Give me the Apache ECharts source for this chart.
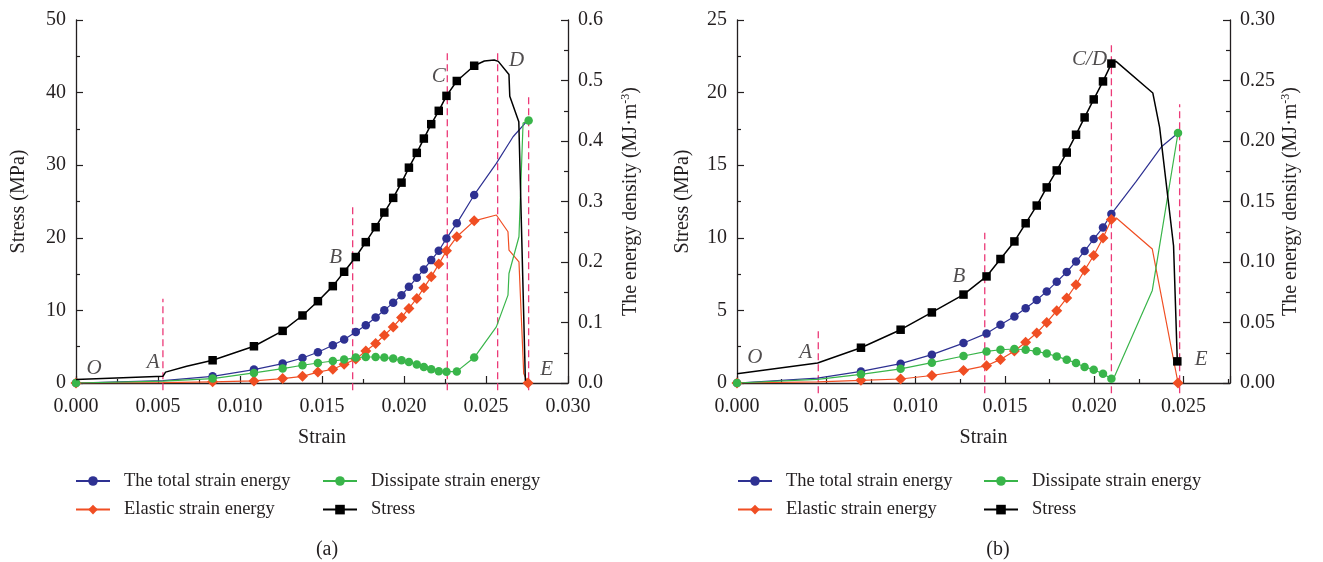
<!DOCTYPE html>
<html>
<head>
<meta charset="utf-8">
<script src="https://cdn.jsdelivr.net/npm/echarts@6/dist/echarts.min.js"></script>
<style>html,body{margin:0;padding:0;background:#fff}#c{width:1323px;height:562px}</style>
</head>
<body>
<div id="c"></div>
<script>
// ---------- DATA: [strain, value, marker(1)/no marker(0)] ----------
// Panel (a)
const stressA = [[0,0.47,0],[0.0053,0.92,0],[0.00546,1.5,0],[0.00675,2.3,0],
  [0.00833,3.13,1],[0.01085,5.06,1],[0.0126,7.18,1],[0.01381,9.3,1],[0.01475,11.27,1],[0.01566,13.34,1],
  [0.01635,15.32,1],[0.01706,17.35,1],[0.01767,19.4,1],[0.01827,21.46,1],[0.0188,23.48,1],[0.01934,25.5,1],
  [0.01985,27.6,1],[0.0203,29.66,1],[0.02078,31.7,1],[0.02121,33.67,1],[0.02166,35.65,1],[0.02212,37.49,1],
  [0.02259,39.55,1],[0.02322,41.6,1],[0.02428,43.7,1],
  [0.0249,44.35,0],[0.0255,44.5,0],[0.02575,44.3,0],[0.0264,42.5,0],[0.02645,39.5,0],[0.027,36.0,0],[0.0274,0.3,0]];
const totalA = [[0,0,1],[0.0053,0.004,0],[0.00833,0.011,1],[0.01085,0.0222,1],[0.0126,0.0321,1],[0.01381,0.0414,1],
  [0.01475,0.0508,1],[0.01566,0.0624,1],[0.01635,0.0718,1],[0.01706,0.0845,1],[0.01767,0.0955,1],[0.01827,0.1083,1],
  [0.0188,0.1204,1],[0.01934,0.1325,1],[0.01985,0.1452,1],[0.0203,0.159,1],[0.02078,0.1738,1],[0.02121,0.1877,1],
  [0.02166,0.2031,1],[0.02212,0.2185,1],[0.02259,0.239,1],[0.02322,0.2639,1],[0.02428,0.3108,1],
  [0.02563,0.363,0],[0.02665,0.407,0],[0.0275,0.433,0]];
const elasticA = [[0,0,1],[0.0053,0.0005,0],[0.00833,0.002,1],[0.01085,0.0035,1],[0.0126,0.0073,1],[0.01381,0.011,1],
  [0.01475,0.018,1],[0.01566,0.0227,1],[0.01635,0.031,1],[0.01706,0.0395,1],[0.01767,0.053,1],[0.01827,0.0652,1],
  [0.0188,0.079,1],[0.01934,0.0927,1],[0.01985,0.1083,1],[0.0203,0.1232,1],[0.02078,0.1397,1],[0.02121,0.1573,1],
  [0.02166,0.1755,1],[0.02212,0.1965,1],[0.02259,0.2185,1],[0.02322,0.2417,1],[0.02428,0.268,1],
  [0.02563,0.2777,0],[0.02634,0.25,0],[0.0264,0.2197,0],[0.02701,0.2003,0],[0.0273,0.0155,0],[0.02756,0,1]];
const dissipateA = [[0,0,1],[0.0053,0.003,0],[0.00833,0.0073,1],[0.01085,0.0166,1],[0.0126,0.0238,1],[0.01381,0.0293,1],
  [0.01475,0.0331,1],[0.01566,0.0364,1],[0.01635,0.0387,1],[0.01706,0.042,1],[0.01767,0.043,1],[0.01827,0.043,1],
  [0.0188,0.042,1],[0.01934,0.0404,1],[0.01985,0.0376,1],[0.0203,0.0348,1],[0.02078,0.0304,1],[0.02121,0.0265,1],
  [0.02166,0.0227,1],[0.02212,0.0194,1],[0.02259,0.0185,1],[0.02322,0.0192,1],[0.02428,0.042,1],
  [0.02563,0.0927,0],[0.02634,0.1452,0],[0.0264,0.181,0],[0.02701,0.2417,0],[0.02726,0.4295,0],[0.0276,0.434,1]];
// guides: [strain, bottom stress, top stress]
const guidesA = [[0.0053,-1,11.6],[0.01687,-1,24.2],[0.02264,-1,45.9],[0.02571,-1,45.9],[0.0276,-1,39.5]];
const labelsA = [['O',0.0011,2.0],['A',0.0047,2.85],['B',0.01584,17.3],['C',0.02212,42.2],['D',0.02687,44.4],['E',0.0287,1.9]];

// Panel (b)
const stressB = [[0,0.64,0],[0.00451,1.38,0],[0.00694,2.43,1],[0.00916,3.67,1],[0.01091,4.86,1],[0.01268,6.09,1],
  [0.01397,7.34,1],[0.01475,8.54,1],[0.01553,9.75,1],[0.01616,11.0,1],[0.01678,12.22,1],[0.01734,13.47,1],
  [0.0179,14.64,1],[0.01846,15.87,1],[0.01898,17.1,1],[0.01946,18.29,1],[0.01997,19.53,1],[0.02049,20.77,1],
  [0.02096,22.0,1],[0.02122,22.15,0],[0.02328,19.97,0],[0.02366,17.6,0],[0.02444,9.45,0],[0.02465,1.49,1]];
const totalB = [[0,0,1],[0.00451,0.004,0],[0.00694,0.0096,1],[0.00916,0.016,1],[0.01091,0.0234,1],[0.01268,0.033,1],
  [0.01397,0.041,1],[0.01475,0.0482,1],[0.01553,0.055,1],[0.01616,0.0618,1],[0.01678,0.0686,1],[0.01734,0.0757,1],
  [0.0179,0.0836,1],[0.01846,0.0917,1],[0.01898,0.1004,1],[0.01946,0.109,1],[0.01997,0.119,1],[0.02049,0.1286,1],
  [0.02096,0.1397,1],[0.02235,0.1666,0],[0.02378,0.1955,0],[0.02469,0.2066,0]];
const elasticB = [[0,0,1],[0.00451,0.001,0],[0.00694,0.0022,1],[0.00916,0.0033,1],[0.01091,0.0062,1],[0.01268,0.0104,1],
  [0.01397,0.0143,1],[0.01475,0.0195,1],[0.01553,0.0265,1],[0.01616,0.0337,1],[0.01678,0.0413,1],[0.01734,0.0501,1],
  [0.0179,0.0597,1],[0.01846,0.0702,1],[0.01898,0.0812,1],[0.01946,0.0932,1],[0.01997,0.1054,1],[0.02049,0.1198,1],
  [0.02096,0.1352,1],[0.02124,0.1364,0],[0.02325,0.1107,0],[0.02469,0,1]];
const dissipateB = [[0,0,1],[0.00451,0.003,0],[0.00694,0.0072,1],[0.00916,0.0117,1],[0.01091,0.0168,1],[0.01268,0.0223,1],
  [0.01397,0.0261,1],[0.01475,0.0275,1],[0.01553,0.0281,1],[0.01616,0.0275,1],[0.01678,0.0262,1],[0.01734,0.0244,1],
  [0.0179,0.022,1],[0.01846,0.0193,1],[0.01898,0.0165,1],[0.01946,0.0132,1],[0.01997,0.011,1],[0.02049,0.0077,1],
  [0.02096,0.0035,1],[0.02114,0.0055,0],[0.02325,0.0765,0],[0.02469,0.2066,1]];
const guidesB = [[0.00455,-0.7,3.8],[0.01387,-0.7,10.35],[0.02096,-0.7,23.5],[0.02478,-0.7,19.2]];
const labelsB = [['O',0.001,1.76],['A',0.00384,2.09],['B',0.01243,7.34],['C/D',0.01974,22.3],['E',0.02599,1.6]];

const xTicksA = {min:0, max:0.03, interval:0.005};
const xTicksB = {min:0, max:0.0276, interval:0.005};
const stressTicksA = {min:0, max:50, interval:10};
const energyTicksA = {min:0, max:0.6, interval:0.1};
const stressTicksB = {min:0, max:25, interval:5};
const energyTicksB = {min:0, max:0.3, interval:0.05};

const NAMES = {total:'The total strain energy', elastic:'Elastic strain energy', dissipate:'Dissipate strain energy', stress:'Stress'};

// ---------- STYLE ----------
const FONT = 'Liberation Serif';
const TXT = '#231f20';
const COL = {total:'#2e3192', elastic:'#f04e23', dissipate:'#39b54a', stress:'#000000', guide:'#ec3a78'};
const SYM = {total:['circle',8.5], elastic:['diamond',11], dissipate:['circle',8.5], stress:['rect',8.5]};

function pts(arr, sym){ return arr.map(p => ({value:[p[0], p[1]], symbol: p[2] ? sym : 'none'})); }

function lineSeries(key, arr, gi, yi){
  const [sym, size] = SYM[key];
  return {
    type:'line', name:NAMES[key], xAxisIndex:gi, yAxisIndex:yi,
    data: pts(arr, sym), symbol: sym, symbolSize: size, showSymbol:true,
    lineStyle:{color:COL[key], width: key==='stress'?1.5:1.2},
    itemStyle:{color:COL[key], borderWidth:0},
    emphasis:{disabled:true}, animation:false, z: key==='stress'?6:(key==='dissipate'?5:(key==='elastic'?4:3))
  };
}
function guideSeries(g, gi, yi){
  return {
    type:'line', xAxisIndex:gi, yAxisIndex:yi, clip:false, symbol:'none', silent:true,
    data:[[g[0], g[1]],[g[0], g[2]]],
    lineStyle:{color:COL.guide, width:1.3, type:[7,4]}, animation:false, z:1
  };
}
function labelSeries(list, gi, yi){
  return {
    type:'scatter', xAxisIndex:gi, yAxisIndex:yi, silent:true, symbolSize:1,
    itemStyle:{color:'rgba(0,0,0,0)'}, animation:false, z:10,
    data: list.map(l => ({name:l[0], value:[l[1], l[2]]})),
    label:{show:true, position:'inside', formatter:'{b}', fontFamily:FONT, fontStyle:'italic', fontSize:21, color:TXT}
  };
}

const axisCommon = {
  type:'value', splitLine:{show:false},
  axisLine:{show:true, onZero:false, lineStyle:{color:TXT, width:1.3}},
  axisTick:{show:true, inside:true, length:7, lineStyle:{color:TXT, width:1.2}},
  minorTick:{show:true, splitNumber:2, length:4, lineStyle:{color:TXT, width:1.2}},
  axisLabel:{fontFamily:FONT, fontSize:20, color:TXT, margin:10},
  nameTextStyle:{fontFamily:FONT, fontSize:20, color:TXT},
  nameMoveOverlap:false
};
function xAx(gi, t){
  return Object.assign({}, axisCommon, t, {gridIndex:gi, position:'bottom', name:'Strain', nameLocation:'middle', nameGap:45,
    axisLabel:Object.assign({}, axisCommon.axisLabel, {margin:14, showMaxLabel: gi===0, formatter:v=>v.toFixed(3)})});
}
function yAx(gi, t, right, dec, gap){
  const o = Object.assign({}, axisCommon, t, {gridIndex:gi, position: right?'right':'left', nameLocation:'middle', nameRotate:90, nameGap:gap,
    axisLabel:Object.assign({}, axisCommon.axisLabel, {formatter:v=>v.toFixed(dec)})});
  if (right) {
    o.name = 'The energy density (MJ·m{sup|-3})';
    o.nameTextStyle = Object.assign({}, axisCommon.nameTextStyle, {rich:{sup:{fontFamily:FONT, fontSize:12, color:TXT, verticalAlign:'top', padding:[0,0,10,0]}}});
  } else {
    o.name = 'Stress (MPa)';
  }
  return o;
}

function legendCol(names, left){
  return {
    orient:'vertical', left:left, top:466.5, itemWidth:34, itemHeight:12, itemGap:9.6,
    data:names, selectedMode:false,
    textStyle:{fontFamily:FONT, fontSize:18.5, color:TXT, padding:[0,0,0,9]}
  };
}

const option = {
  animation:false,
  backgroundColor:'#ffffff',
  grid:[
    {left:76, top:20, width:492, height:363, outerBoundsMode:'none', containLabel:false},
    {left:737, top:20, width:493, height:363, outerBoundsMode:'none', containLabel:false}
  ],
  xAxis:[xAx(0, xTicksA), xAx(1, xTicksB)],
  yAxis:[yAx(0, stressTicksA, false, 0, 47), yAx(0, energyTicksA, true, 1, 52),
         yAx(1, stressTicksB, false, 0, 44), yAx(1, energyTicksB, true, 2, 50)],
  title:[
    {text:'(a)', left:322, top:535, textAlign:'center', textStyle:{fontFamily:FONT, fontSize:20, fontWeight:'normal', color:TXT}},
    {text:'(b)', left:993, top:535, textAlign:'center', textStyle:{fontFamily:FONT, fontSize:20, fontWeight:'normal', color:TXT}}
  ],
  legend:[
    legendCol([NAMES.total, NAMES.elastic], 70),
    legendCol([NAMES.dissipate, NAMES.stress], 317),
    legendCol([NAMES.total, NAMES.elastic], 732),
    legendCol([NAMES.dissipate, NAMES.stress], 978)
  ],
  series:[].concat(
    guidesA.map(g => guideSeries(g, 0, 0)),
    guidesB.map(g => guideSeries(g, 1, 2)),
    [lineSeries('total', totalA, 0, 1), lineSeries('elastic', elasticA, 0, 1), lineSeries('dissipate', dissipateA, 0, 1), lineSeries('stress', stressA, 0, 0),
     lineSeries('total', totalB, 1, 3), lineSeries('elastic', elasticB, 1, 3), lineSeries('dissipate', dissipateB, 1, 3), lineSeries('stress', stressB, 1, 2),
     labelSeries(labelsA, 0, 0), labelSeries(labelsB, 1, 2)]
  )
};
const chart = echarts.init(document.getElementById('c'), null, {renderer:'canvas'});
chart.setOption(option);
</script>
</body>
</html>
